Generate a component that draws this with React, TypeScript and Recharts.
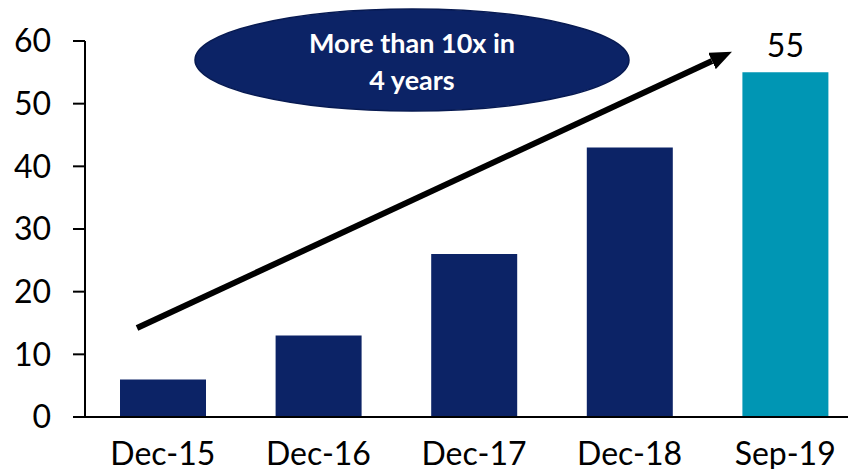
import { Bar, BarChart, XAxis, YAxis, Cell, LabelList } from "recharts"

const categories = ["Dec-15", "Dec-16", "Dec-17", "Dec-18", "Sep-19"]
const values = [6, 13, 26, 43, 55]
const yTicks = [0, 10, 20, 30, 40, 50, 60]
const barColors = ["#0c2366", "#0c2366", "#0c2366", "#0c2366", "#0096b4"]
const calloutLines = ["More than 10x in", "4 years"]

const data = categories.map((name, i) => ({ name, value: values[i] }))

const font = "Lato, 'Open Sans', sans-serif"

function TopLabel(props: any) {
  const { x, y, width, value, index } = props
  if (index !== values.length - 1) return null
  return (
    <text x={x + width / 2} y={y - 15} textAnchor="middle" fontSize={32} fontFamily={font} fill="#000">
      {value}
    </text>
  )
}

export default function App() {
  return (
    <div style={{ position: "relative", width: 848, height: 461, overflow: "hidden" }}>
      <BarChart
        width={860}
        height={461}
        data={data}
        margin={{ top: 33, right: 5, bottom: 0, left: 0 }}
        barSize={86}
      >
        <XAxis
          dataKey="name"
          height={52}
          tickLine={false}
          tickSize={0}
          tickMargin={25}
          axisLine={{ stroke: "#000", strokeWidth: 2 }}
          tick={{ fill: "#000", fontSize: 32, fontFamily: font }}
          interval={0}
        />
        <YAxis
          width={77}
          domain={[0, 60]}
          ticks={yTicks}
          tickSize={12}
          tickMargin={22}
          axisLine={{ stroke: "#000", strokeWidth: 2 }}
          tickLine={{ stroke: "#000", strokeWidth: 2 }}
          tick={{ fill: "#000", fontSize: 32, fontFamily: font }}
        />
        <Bar dataKey="value" isAnimationActive={false}>
          {data.map((d, i) => (
            <Cell key={d.name} fill={barColors[i]} />
          ))}
          <LabelList dataKey="value" content={TopLabel} />
        </Bar>
      </BarChart>
      <svg
        width={848}
        height={461}
        style={{ position: "absolute", left: 0, top: 0, pointerEvents: "none" }}
      >
        <defs>
          <marker id="head" markerWidth="22" markerHeight="18" refX="0" refY="9" orient="auto" markerUnits="userSpaceOnUse">
            <path d="M0,0 L22,9 L0,18 Z" fill="#000" />
          </marker>
        </defs>
        <line x1={129} y1={320} x2={704} y2={53} stroke="#000" strokeWidth={6} markerEnd="url(#head)" />
        <ellipse cx={404} cy={52} rx={217} ry={51} fill="#0c2366" stroke="#071a52" strokeWidth={1.5} />
        {calloutLines.map((t, i) => (
          <text
            key={t}
            x={404}
            y={45 + i * 37}
            textAnchor="middle"
            fontSize={27}
            fontWeight="bold"
            fontFamily={font}
            fill="#fff"
          >
            {t}
          </text>
        ))}
      </svg>
    </div>
  )
}
